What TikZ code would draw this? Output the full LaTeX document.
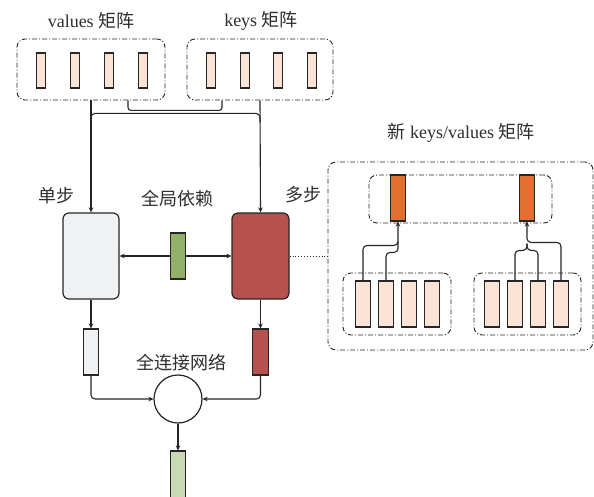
\documentclass[tikz,border=0pt]{standalone}
\usepackage{fontspec}
\setmainfont{Liberation Serif}
\newfontfamily\cjk{Noto Sans CJK SC}
\usetikzlibrary{arrows.meta,calc}
\definecolor{peach}{HTML}{FBE3D6}
\definecolor{paleg}{HTML}{F0F1F3}
\definecolor{brick}{HTML}{B5514E}
\definecolor{leaf}{HTML}{93B06A}
\definecolor{ember}{HTML}{E07030}
\definecolor{sage}{HTML}{C9D9B4}
\definecolor{ink}{HTML}{2E2E2E}
\tikzset{
  every node/.style={text=ink},
  lbl/.style={font=\fontsize{18}{21}\selectfont},
  cell/.style={draw=black!85, fill=peach, line width=1.1pt, inner sep=0pt,
    minimum width=9pt, minimum height=35pt},
  bar/.style={draw=black!85, line width=1.1pt, inner sep=0pt,
    minimum width=15.5pt, minimum height=46pt},
  group/.style={draw=black!85, line width=0.9pt, inner sep=0pt,
    dash pattern=on 5pt off 2pt on 1pt off 2pt, rounded corners=8pt},
  block/.style={draw=black!85, line width=1.2pt, rounded corners=6pt, inner sep=0pt,
    minimum width=56pt, minimum height=86pt},
  wire/.style={draw=black!85, line width=1.1pt},
  arr/.style={wire, -{Stealth[length=5pt,width=4.5pt]}},
}
\begin{document}
\begin{tikzpicture}[x=1pt,y=-1pt]
\clip (0,0) rectangle (594,497);
\fill[white] (0,0) rectangle (594,497);

% input matrices
\node[group, minimum width=148pt, minimum height=61pt] (vals) at (91,69.5) {};
\node[group, minimum width=146pt, minimum height=61pt] (keys) at (260,69.5) {};
\foreach \x [count=\i] in {41,75,109,143}
  \node[cell] (v\i) at (\x,70.5) {};
\foreach \x [count=\i] in {211,245,278,312}
  \node[cell] (k\i) at (\x,70.5) {};
\node[lbl] (vlab) at (91,21) {values {\cjk 矩阵}};
\node[lbl] (klab) at (261,21) {keys {\cjk 矩阵}};

% encoders
\node[block, fill=paleg] (single) at (91,256) {};
\node[block, fill=brick, minimum width=57pt] (multi) at (260.5,256) {};
\node[bar, fill=leaf] (glob) at (178,256) {};
\node[lbl] (slab) at (56,196) {\cjk 单步};
\node[lbl] (glab) at (177,199) {\cjk 全局依赖};
\node[lbl] (mlab) at (303,195) {\cjk 多步};

\draw[arr] (vals.south) -- (single.north);
\draw[arr] (keys.south) -- (multi.north);
\draw[wire, rounded corners=3pt] ([xshift=37pt]vals.south) -- ++(0,10) -| ([xshift=-38pt]keys.south);
\draw[wire, rounded corners=4pt] ([yshift=-22pt]vals.south) -- ++(0,-9) -| ([yshift=-22pt]keys.south);
\draw[arr] (glob.west) -- (single.east);
\draw[arr] (glob.east) -- (multi.west);

% fusion
\node[bar, fill=paleg] (sg) at (91,352) {};
\node[bar, fill=brick] (sr) at (260.5,352) {};
\node[circle, draw=black!85, line width=1.2pt, fill=white, minimum size=48pt, inner sep=0pt] (fc) at (178,399) {};
\node[bar, fill=sage, minimum height=60pt] (out) at (178,481) {};
\node[lbl] (flab) at (181,363) {\cjk 全连接网络};
\draw[arr] (single.south) -- (sg.north);
\draw[arr] (multi.south) -- (sr.north);
\draw[arr, rounded corners=4pt] (sg.south) |- (fc.west);
\draw[arr, rounded corners=4pt] (sr.south) |- (fc.east);
\draw[arr] (fc.south) -- (out.north);

% new keys/values matrices
\node[group, minimum width=265pt, minimum height=188pt] (kv) at (460.5,256) {};
\node[lbl] (nlab) at (461,133) {{\cjk 新} keys/values {\cjk 矩阵}};
\node[group, minimum width=183pt, minimum height=48pt] (top) at (460.5,199) {};
\node[bar, fill=ember] (o1) at (398,198) {};
\node[bar, fill=ember] (o2) at (527,198) {};
\node[group, minimum width=108pt, minimum height=62pt] (bl) at (397,304) {};
\node[group, minimum width=107pt, minimum height=62pt] (br) at (527.5,304) {};
\foreach \x [count=\i] in {363,386,409,432}
  \node[bar, fill=peach] (a\i) at (\x,304) {};
\foreach \x [count=\i] in {492,515,538,561}
  \node[bar, fill=peach] (b\i) at (\x,304) {};
\draw[draw=black!85, line width=0.9pt, dotted] (multi.east) -- (kv.west);

\draw[arr, rounded corners=4pt] (a1.north) -- ++(0,-35) -| (o1.south);
\draw[wire, rounded corners=4pt] (a2.north) -- ++(0,-28) -| ([yshift=-20pt]o1.south);
\draw[arr, rounded corners=4pt] (b4.north) -- ++(0,-38) -| (o2.south);
\draw[wire, rounded corners=4pt] (b2.north) -- ++(0,-30) -| ([yshift=-22pt]o2.south);
\draw[wire, rounded corners=4pt] (b3.north) -- ++(0,-30) -| ([yshift=-22pt]o2.south);
\end{tikzpicture}
\end{document}
